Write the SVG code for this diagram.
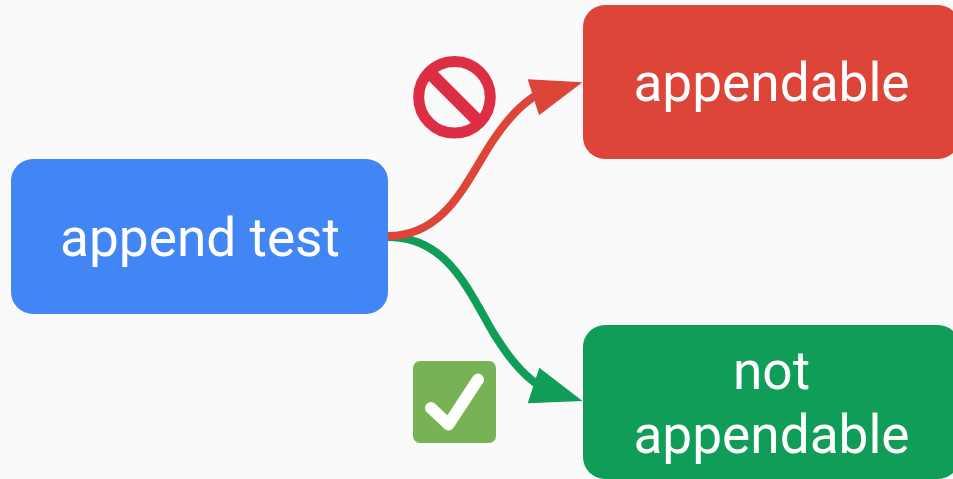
<svg xmlns="http://www.w3.org/2000/svg" width="953" height="479" viewBox="0 0 953 479">
<style>
.t{font-family:Roboto,"Liberation Sans",sans-serif;font-size:53.200px;fill:#fff;text-anchor:middle}
.c{fill:none;stroke-width:8}
</style>
<rect width="953" height="479" fill="#fafafa"/>
<g id="connectors">
<path class="c" d="M388 237C447 237 467 288 494 334C508 356 520 372 538 385" stroke="#0f9d58"/>
<polygon points="582.500,401 527.700,403.300 539.300,367.700" fill="#0f9d58"/>
<path class="c" d="M388 236C447 236 467 179 494 139C508 119 520 105 538 94" stroke="#dd4539"/>
<polygon points="582.500,82.300 527.700,79.300 539,115.300" fill="#dd4539"/>
</g>
<g id="node-append-test"><rect x="11" y="159" width="377" height="155" rx="22" fill="#4285f4"/><text class="t" x="200" y="255.500">append test</text></g>
<g id="node-appendable"><rect x="583" y="5" width="377" height="154" rx="22" fill="#dd4539"/><text class="t" x="771.500" y="100.500">appendable</text></g>
<g id="node-not-appendable"><rect x="583" y="325" width="377" height="154" rx="22" fill="#0f9d58"/><text class="t" x="771.500" y="389">not</text><text class="t" x="771.500" y="453">appendable</text></g>
<g id="icon-no"><circle cx="454.500" cy="97.300" r="35.800" fill="none" stroke="#dd2e44" stroke-width="11"/><line x1="429" y1="72" x2="480" y2="123" stroke="#dd2e44" stroke-width="13"/></g>
<g id="icon-check"><rect x="413" y="361" width="83" height="82" rx="7" fill="#77b255"/><path d="M431 408L448.500 424.500L478 379.500" fill="none" stroke="#fff" stroke-width="12" stroke-linecap="round" stroke-linejoin="round"/></g>
</svg>
